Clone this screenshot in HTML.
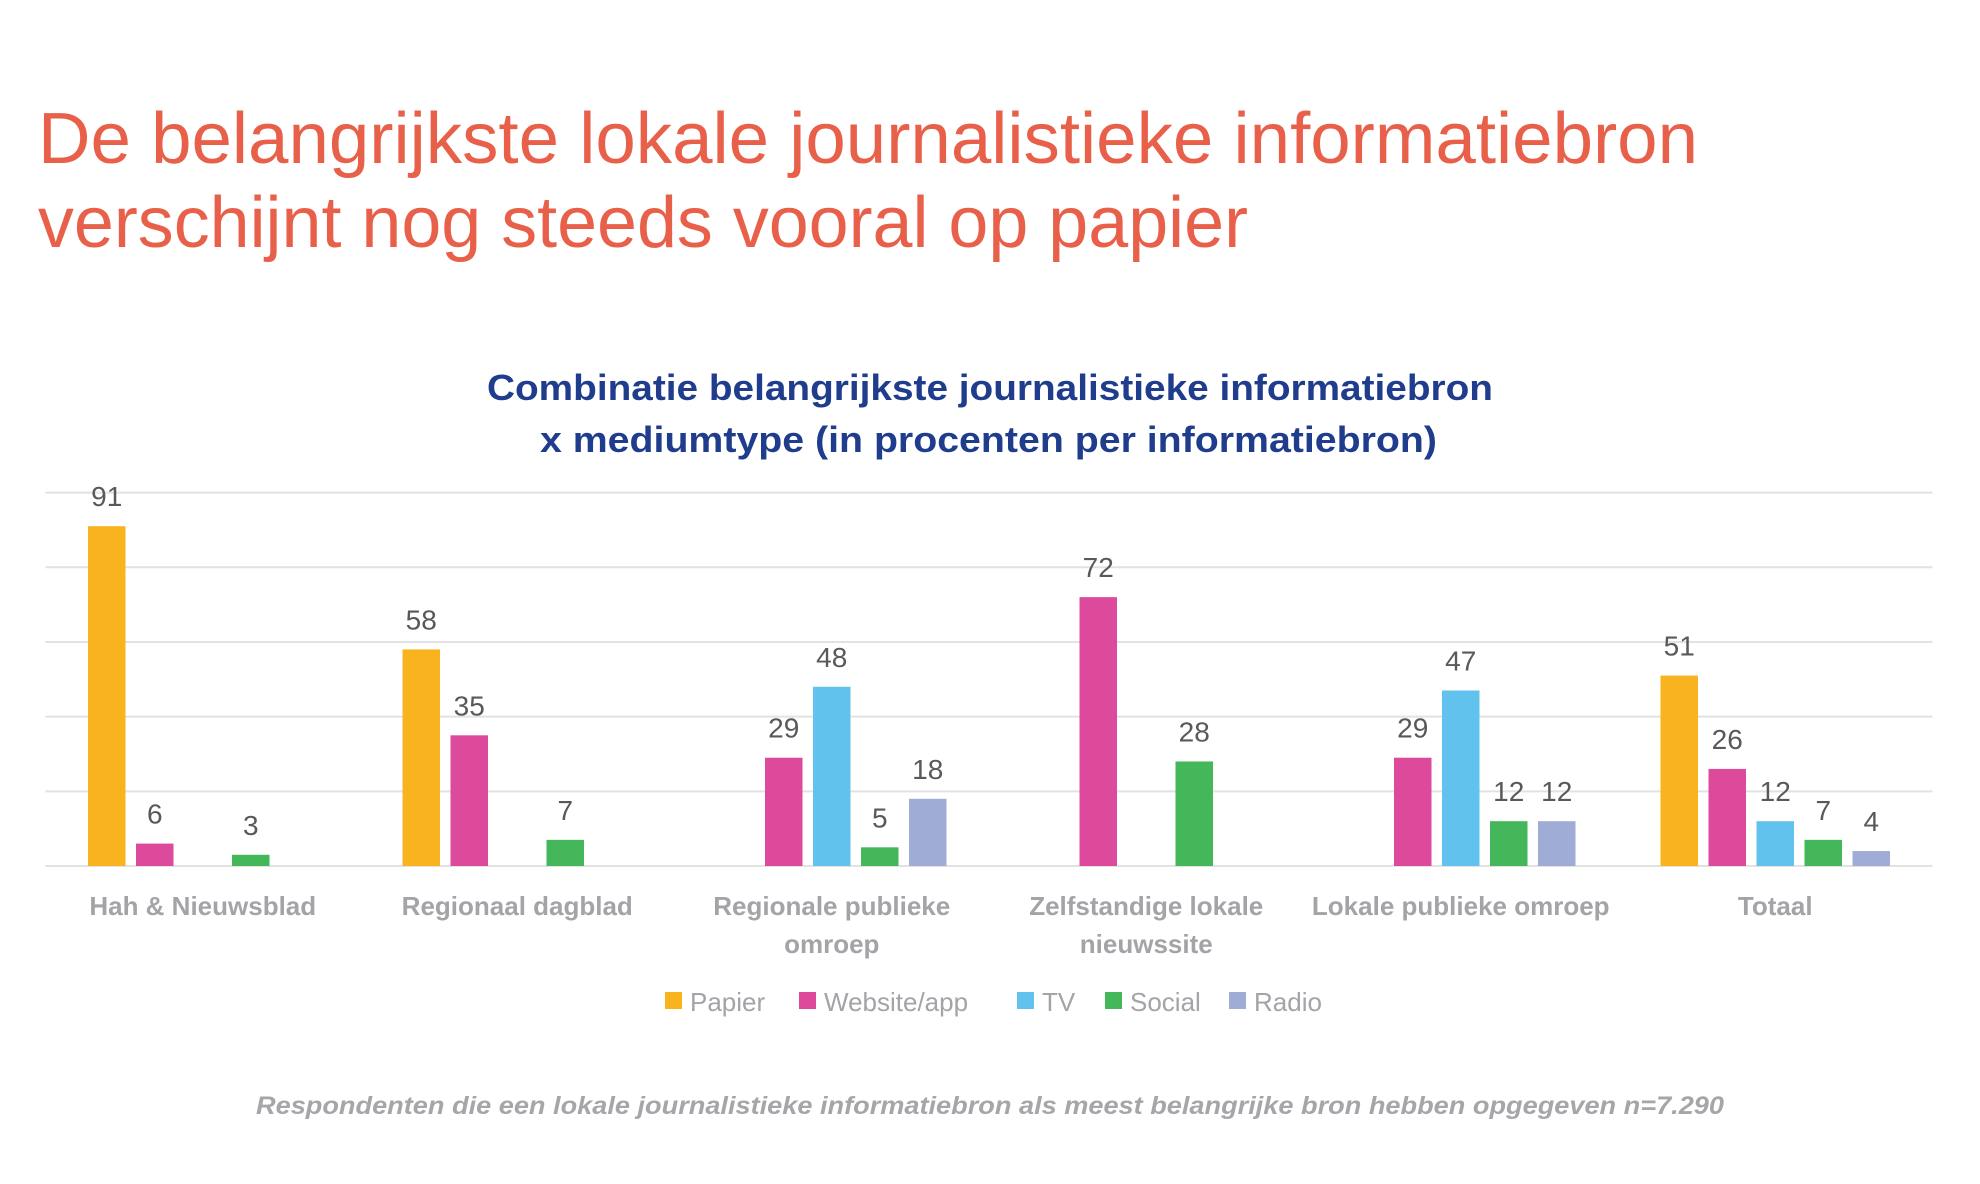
<!DOCTYPE html>
<html><head><meta charset="utf-8"><style>
html,body{margin:0;padding:0;background:#fff;}
svg{display:block;font-family:"Liberation Sans",sans-serif;}
</style></head><body>
<svg id="chart" width="1980" height="1184" viewBox="0 0 1980 1184">
<text x="38" y="163" font-size="72" fill="#e8604a" textLength="1660" lengthAdjust="spacingAndGlyphs">De belangrijkste lokale journalistieke informatiebron</text>
<text x="38" y="247" font-size="72" fill="#e8604a" textLength="1210" lengthAdjust="spacingAndGlyphs">verschijnt nog steeds vooral op papier</text>
<text x="487" y="400" font-size="36" font-weight="bold" fill="#1f3d8c" textLength="1006" lengthAdjust="spacingAndGlyphs">Combinatie belangrijkste journalistieke informatiebron</text>
<text x="540" y="452" font-size="36" font-weight="bold" fill="#1f3d8c" textLength="897" lengthAdjust="spacingAndGlyphs">x mediumtype (in procenten per informatiebron)</text>
<g id="grid"></g><g id="bars"></g><g id="cats"></g><g id="legend"></g>
<text x="256" y="1114" font-size="25" font-weight="bold" font-style="italic" fill="#a6a6aa" textLength="1468" lengthAdjust="spacingAndGlyphs">Respondenten die een lokale journalistieke informatiebron als meest belangrijke bron hebben opgegeven  n=7.290</text>
</svg>
<script>
const categories=[["Hah & Nieuwsblad"],["Regionaal dagblad"],["Regionale publieke","omroep"],["Zelfstandige lokale","nieuwssite"],["Lokale publieke omroep"],["Totaal"]];
const seriesNames=["Papier","Website/app","TV","Social","Radio"];
const papier=[91,58,null,null,null,51];
const website=[6,35,29,72,29,26];
const tv=[null,null,48,null,47,12];
const social=[3,7,5,28,12,7];
const radio=[null,null,18,null,12,4];
const gridTicks=[0,20,40,60,80,100];
const series=[papier,website,tv,social,radio];
const colors=["#f8b31f","#dd4a9b","#62c2ee","#43b75a","#9facd6"];
const NS="http://www.w3.org/2000/svg";
const L=45.5,R=1932.5,B=866,T=492.6,MAX=100;
const y=v=>B-(v/MAX)*(B-T);
const gw=(R-L)/categories.length;
const bw=37.5,pitch=48;
const x=(g,s)=>L+gw*g+gw/2-(pitch*4+bw)/2+s*pitch;
function mk(tag,attrs,parent){const e=document.createElementNS(NS,tag);for(const k in attrs)e.setAttribute(k,attrs[k]);parent.appendChild(e);return e;}
const grid=document.getElementById('grid');
gridTicks.forEach(t=>{
  const l=mk('line',{x1:L,x2:R,y1:y(t),y2:y(t),stroke:'#e2e2e2','stroke-width':2},grid);
  
  
});
const bars=document.getElementById('bars');
series.forEach((arr,s)=>{arr.forEach((v,g)=>{
  if(v==null)return;
  const r=mk('rect',{x:x(g,s),y:y(v),width:bw,height:B-y(v),fill:colors[s]},bars);
  
  
  const t=mk('text',{x:x(g,s)+bw/2,y:y(v)-20,'text-anchor':'middle','font-size':28,fill:'#595959'},bars);
  t.textContent=v;
  
  
});});
const cats=document.getElementById('cats');
categories.forEach((lines,g)=>{lines.forEach((ln,i)=>{
  const t=mk('text',{x:L+gw*g+gw/2,y:915+i*38,'text-anchor':'middle','font-size':26,'font-weight':'bold',fill:'#a3a3a8'},cats);
  t.textContent=ln;
  
  
});});
const lg=document.getElementById('legend');
const lx=[665,799,1017,1105,1229];
seriesNames.forEach((n,i)=>{
  const r=mk('rect',{x:lx[i],y:992,width:17,height:17,fill:colors[i]},lg);
  
  
  const t=mk('text',{x:lx[i]+25,y:1011,'font-size':26,fill:'#a3a3a8'},lg);
  t.textContent=n;
  
  
});
</script>
</body></html>
